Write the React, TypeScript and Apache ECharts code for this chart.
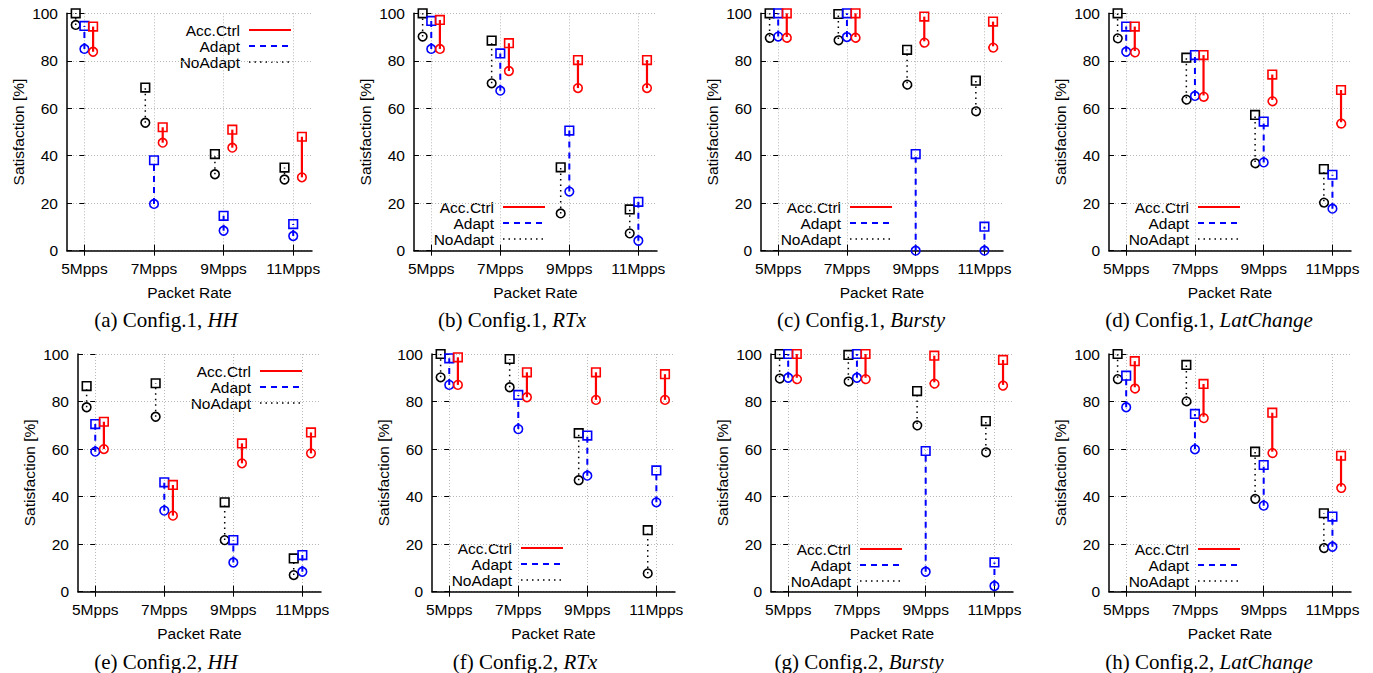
import React, { useEffect, useRef } from 'react';
import * as echarts from 'echarts';

const categories = ['5Mpps', '7Mpps', '9Mpps', '11Mpps'];
const categoryIndex = [0, 1, 2, 3];
const seriesNames = ['Acc.Ctrl', 'Adapt', 'NoAdapt'];
const captionPrefixes = ['(a) Config.1, ', '(b) Config.1, ', '(c) Config.1, ', '(d) Config.1, ', '(e) Config.2, ', '(f) Config.2, ', '(g) Config.2, ', '(h) Config.2, '];
const captionItalics = ['HH', 'RTx', 'Bursty', 'LatChange', 'HH', 'RTx', 'Bursty', 'LatChange'];

// (a) Config.1, HH
const aAccHigh = [94.4, 52, 51, 48];
const aAccLow = [83.8, 45.5, 43.4, 30.9];
const aAdaptHigh = [94.7, 38.1, 14.7, 11.2];
const aAdaptLow = [85, 19.7, 8.4, 6.2];
const aNoHigh = [100, 68.7, 40.7, 35];
const aNoLow = [95.1, 53.9, 32.2, 30];
// (b) Config.1, RTx
const bAccHigh = [97.2, 87.4, 80.3, 80.3];
const bAccLow = [85, 75.7, 68.5, 68.5];
const bAdaptHigh = [96.8, 83.1, 50.6, 20.6];
const bAdaptLow = [85, 67.4, 24.9, 4.2];
const bNoHigh = [100, 88.5, 35.1, 17.4];
const bNoLow = [90.2, 70.5, 15.7, 7.3];
// (c) Config.1, Bursty
const cAccHigh = [100, 100, 98.6, 96.5];
const cAccLow = [90, 90, 88.2, 86.1];
const cAdaptHigh = [100, 100, 40.7, 10.1];
const cAdaptLow = [90.2, 90, 0, 0];
const cNoHigh = [100, 99.7, 84.6, 71.6];
const cNoLow = [90.2, 89.2, 70.5, 59.3];
// (d) Config.1, LatChange
const dAccHigh = [94.4, 82.4, 74.2, 67.7];
const dAccLow = [84.1, 65.4, 63.5, 54.1];
const dAdaptHigh = [94.4, 82.4, 54.4, 32];
const dAdaptLow = [83.8, 65.2, 37.2, 17.7];
const dNoHigh = [100, 81.3, 57.2, 34.4];
const dNoLow = [90, 64.2, 37.4, 20.8];
// (e) Config.2, HH
const eAccHigh = [71.5, 44.9, 62.4, 67];
const eAccLow = [60, 32, 54, 58.2];
const eAdaptHigh = [70.5, 46, 21.7, 15.4];
const eAdaptLow = [58.9, 34.1, 12.3, 8.4];
const eNoHigh = [86.5, 87.7, 37.6, 14];
const eNoLow = [77.6, 73.6, 21.7, 7];
// (f) Config.2, RTx
const fAccHigh = [98.6, 92.3, 92.3, 91.5];
const fAccLow = [87, 81.8, 80.7, 80.7];
const fAdaptHigh = [98.2, 82.8, 65.7, 51];
const fAdaptLow = [87, 68.4, 48.8, 37.6];
const fNoHigh = [100, 97.9, 66.7, 25.9];
const fNoLow = [90.2, 86, 46.9, 7.7];
// (g) Config.2, Bursty
const gAccHigh = [100, 100, 99.3, 97.5];
const gAccLow = [90, 90, 88.1, 87];
const gAdaptHigh = [100, 100, 59.2, 12.3];
const gAdaptLow = [90, 90, 8.4, 2.4];
const gNoHigh = [100, 99.6, 84.4, 71.8];
const gNoLow = [90.2, 89, 70.5, 59.2];
// (h) Config.2, LatChange
const hAccHigh = [97, 87.4, 75.3, 57.2];
const hAccLow = [86, 73.6, 58.9, 44.2];
const hAdaptHigh = [90.9, 74.8, 53.3, 31.6];
const hAdaptLow = [77.6, 59.9, 36.2, 18.9];
const hNoHigh = [100, 95.4, 58.9, 33];
const hNoLow = [90, 80.6, 39.6, 18.9];

const panelData = [
  { 'Acc.Ctrl': [aAccLow, aAccHigh], Adapt: [aAdaptLow, aAdaptHigh], NoAdapt: [aNoLow, aNoHigh] },
  { 'Acc.Ctrl': [bAccLow, bAccHigh], Adapt: [bAdaptLow, bAdaptHigh], NoAdapt: [bNoLow, bNoHigh] },
  { 'Acc.Ctrl': [cAccLow, cAccHigh], Adapt: [cAdaptLow, cAdaptHigh], NoAdapt: [cNoLow, cNoHigh] },
  { 'Acc.Ctrl': [dAccLow, dAccHigh], Adapt: [dAdaptLow, dAdaptHigh], NoAdapt: [dNoLow, dNoHigh] },
  { 'Acc.Ctrl': [eAccLow, eAccHigh], Adapt: [eAdaptLow, eAdaptHigh], NoAdapt: [eNoLow, eNoHigh] },
  { 'Acc.Ctrl': [fAccLow, fAccHigh], Adapt: [fAdaptLow, fAdaptHigh], NoAdapt: [fNoLow, fNoHigh] },
  { 'Acc.Ctrl': [gAccLow, gAccHigh], Adapt: [gAdaptLow, gAdaptHigh], NoAdapt: [gNoLow, gNoHigh] },
  { 'Acc.Ctrl': [hAccLow, hAccHigh], Adapt: [hAdaptLow, hAdaptHigh], NoAdapt: [hNoLow, hNoHigh] },
];

const layouts = [
  { left: 67, top: 13.3, width: 245, height: 237.4, legX: 240, legY: 30, capX: 166, capY: 320 },
  { left: 414, top: 13.3, width: 243, height: 237.4, legX: 494, legY: 207, capX: 512, capY: 320 },
  { left: 761, top: 13.3, width: 242, height: 237.4, legX: 841, legY: 207, capX: 861, capY: 320 },
  { left: 1109, top: 13.3, width: 242, height: 237.4, legX: 1189, legY: 207, capX: 1209, capY: 320 },
  { left: 78, top: 354, width: 243, height: 237.7, legX: 251, legY: 371, capX: 166, capY: 662 },
  { left: 432, top: 354, width: 243, height: 237.7, legX: 512, legY: 548, capX: 525, capY: 662 },
  { left: 771, top: 354, width: 242, height: 237.7, legX: 851, legY: 549, capX: 859, capY: 662 },
  { left: 1109, top: 354, width: 242, height: 237.7, legX: 1189, legY: 549, capX: 1209, capY: 662 },
];

const seriesStyle: Record<string, any> = {
  'Acc.Ctrl': { color: '#ff0000', dash: null, width: 2.2, offset: 0.125, z: 4 },
  Adapt: { color: '#0000ff', dash: [6, 5], width: 2, offset: 0, z: 3 },
  NoAdapt: { color: '#000000', dash: [1.5, 4], width: 1.5, offset: -0.125, z: 2 },
};

const SANS = '"Liberation Sans", Arial, Helvetica, sans-serif';
const SERIF = '"Liberation Serif", "Times New Roman", serif';
const FS = 15.5;

function makeRenderItem(name: string) {
  const st = seriesStyle[name];
  return (params: any, api: any) => {
    const x = api.value(0) + st.offset;
    const lo = api.coord([x, api.value(1)]);
    const hi = api.coord([x, api.value(2)]);
    const h = 4.3;
    return {
      type: 'group',
      children: [
        {
          type: 'line',
          shape: { x1: lo[0], y1: lo[1], x2: hi[0], y2: hi[1] },
          style: { stroke: st.color, lineWidth: st.width, lineDash: st.dash || undefined, fill: null },
        },
        {
          type: 'circle',
          shape: { cx: lo[0], cy: lo[1], r: h },
          style: { fill: 'none', stroke: st.color, lineWidth: 1.6 },
        },
        {
          type: 'rect',
          shape: { x: hi[0] - h, y: hi[1] - h, width: 2 * h, height: 2 * h },
          style: { fill: 'none', stroke: st.color, lineWidth: 1.6 },
        },
      ],
    };
  };
}

function buildOption() {
  const grid: any[] = [];
  const xAxis: any[] = [];
  const yAxis: any[] = [];
  const series: any[] = [];
  const graphic: any[] = [];

  layouts.forEach((L, p) => {
    grid.push({ left: L.left, top: L.top, width: L.width, height: L.height, containLabel: false });
    const gridLine = { show: true, lineStyle: { color: '#b8b8b8', type: [1, 2], width: 1 } };
    xAxis.push({
      type: 'value', gridIndex: p, min: -0.25, max: 3.27,
      axisLine: { show: true, onZero: false, lineStyle: { color: '#000', width: 1.5 } },
      axisTick: { show: true, inside: true, length: 6, customValues: categoryIndex, lineStyle: { color: '#000', width: 1 } },
      axisLabel: { show: true, customValues: categoryIndex, formatter: (v: number) => categories[Math.round(v)] ?? '', color: '#000', fontSize: FS, fontFamily: SANS, margin: 10 },
      splitLine: gridLine,
      name: 'Packet Rate', nameLocation: 'middle', nameGap: 34,
      nameTextStyle: { color: '#000', fontSize: FS, fontFamily: SANS },
    });
    xAxis.push({
      type: 'value', gridIndex: p, position: 'top', min: -0.25, max: 3.27,
      axisLine: { show: false },
      axisTick: { show: true, inside: true, length: 5, customValues: categoryIndex, lineStyle: { color: '#000', width: 1 } },
      axisLabel: { show: false },
      splitLine: { show: false },
    });
    yAxis.push({
      type: 'value', gridIndex: p, min: 0, max: 100, interval: 20,
      axisLine: { show: true, onZero: false, lineStyle: { color: '#000', width: 1.5 } },
      axisTick: { show: true, inside: true, length: 5, lineStyle: { color: '#000', width: 1 } },
      axisLabel: { color: '#000', fontSize: FS, fontFamily: SANS, margin: 9 },
      splitLine: gridLine,
      name: 'Satisfaction [%]', nameLocation: 'middle', nameGap: 41, nameRotate: 90,
      nameTextStyle: { color: '#000', fontSize: FS, fontFamily: SANS },
    });
    yAxis.push({
      type: 'value', gridIndex: p, position: 'right', min: 0, max: 100, interval: 20,
      axisLine: { show: false },
      axisTick: { show: true, inside: true, length: 5, lineStyle: { color: '#000', width: 1 } },
      axisLabel: { show: false },
      splitLine: { show: false },
    });

    ['NoAdapt', 'Adapt', 'Acc.Ctrl'].forEach((name) => {
      const [low, high] = (panelData[p] as any)[name];
      series.push({
        type: 'custom', name, xAxisIndex: 2 * p, yAxisIndex: 2 * p,
        renderItem: makeRenderItem(name),
        encode: { x: 0, y: [1, 2] },
        data: categoryIndex.map((i) => [i, low[i], high[i]]),
        z: seriesStyle[name].z,
        clip: false,
        silent: true,
      });
    });

    // legend (text right-aligned, sample line on its right)
    seriesNames.forEach((name, k) => {
      const st = seriesStyle[name];
      const y = L.legY + k * 16;
      graphic.push({
        type: 'text', x: L.legX, y,
        style: { text: name, fill: '#000', font: `${FS}px ${SANS}`, align: 'right', verticalAlign: 'middle', textAlign: 'right', textVerticalAlign: 'middle' },
      });
      graphic.push({
        type: 'line',
        shape: { x1: L.legX + 9, y1: y, x2: L.legX + 51, y2: y },
        style: { stroke: st.color, lineWidth: st.width, lineDash: st.dash || undefined },
      });
    });

    graphic.push({
      type: 'text', x: L.capX, y: L.capY,
      style: {
        text: `{n|${captionPrefixes[p]}}{i|${captionItalics[p]}}`,
        rich: {
          n: { fontFamily: SERIF, fontSize: 21, fill: '#000', color: '#000' },
          i: { fontFamily: SERIF, fontSize: 21, fontStyle: 'italic', fill: '#000', color: '#000' },
        },
        fill: '#000', font: `21px ${SERIF}`,
        align: 'center', verticalAlign: 'middle', textAlign: 'center', textVerticalAlign: 'middle',
      },
    });
  });

  return { animation: false, backgroundColor: '#fff', grid, xAxis, yAxis, series, graphic };
}

export default function App() {
  const ref = useRef<HTMLDivElement>(null);
  useEffect(() => {
    if (!ref.current) return;
    const chart = echarts.init(ref.current, undefined, { renderer: 'svg' });
    chart.setOption(buildOption() as any);
    return () => chart.dispose();
  }, []);
  return <div ref={ref} style={{ position: 'absolute', left: 0, top: 0, width: 1373, height: 673, background: '#fff' }} />;
}
